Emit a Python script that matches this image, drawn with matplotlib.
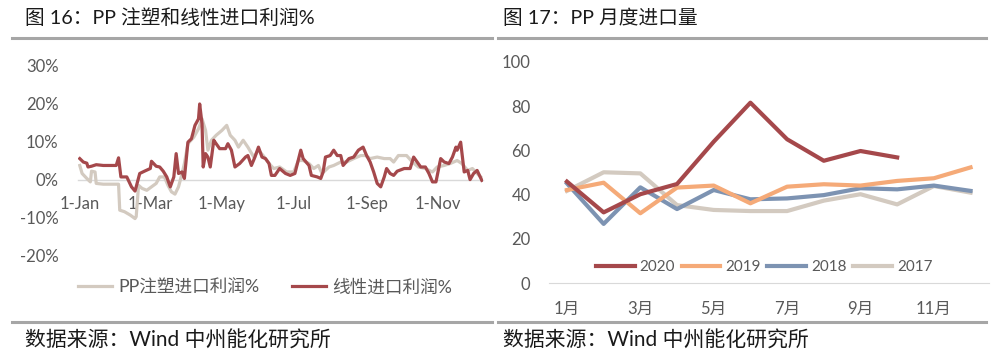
import matplotlib.pyplot as plt
import numpy as np
from matplotlib.lines import Line2D

plt.rcParams['font.family'] = ['Lato', 'Noto Sans CJK SC', 'DejaVu Sans']

# ---- left chart: import margin (%), day offsets from 2020-01-01
linear_days = [0, 3, 6, 7, 10, 14, 20, 26, 31, 33, 35, 40, 44, 47, 48, 51, 55, 60, 61, 65,
               68, 71, 74, 77, 80, 82, 84, 87, 89, 92, 95, 98, 101, 102, 104, 105, 107, 109,
               111, 114, 116, 119, 124, 126, 129, 132, 136, 141, 143, 146, 149, 152, 155,
               158, 161, 163, 166, 170, 175, 179, 183, 188, 190, 195, 197, 202, 205, 207,
               209, 213, 216, 219, 222, 224, 229, 233, 237, 241, 244, 247, 250, 253, 256,
               259, 261, 264, 267, 270, 276, 281, 284, 287, 290, 294, 297, 300, 303, 307,
               310, 314, 317, 320, 321, 324, 327, 330, 332, 335, 338, 342]
linear = [5.5, 4.6, 4.3, 3.3, 3.5, 3.9, 3.7, 3.7, 3.7, 5.7, 0.7, 0.7, -1.9, -3.0, -1.9, 1.6,
          2.2, 2.9, 4.8, 3.5, 3.3, 2.2, 0.7, -1.9, 0.7, 6.8, 1.6, 2.0, 0.3, 9.8, 10.7, 14.2,
          15.9, 19.8, 14.6, 3.3, 6.8, 5.9, 3.3, 10.3, 9.4, 8.1, 8.1, 9.4, 7.7, 3.3, 4.2, 5.9,
          6.3, 3.7, 5.9, 8.5, 5.9, 5.5, 4.2, 1.1, 1.1, 2.9, 1.6, 1.1, 1.6, 7.7, 5.5, 3.7, 1.1,
          0.7, 0.3, 2.0, 5.9, 6.3, 7.7, 6.3, 6.3, 3.7, 5.5, 5.9, 7.7, 8.5, 6.3, 4.6, 2.0,
          -1.0, -1.9, 0.7, 2.9, 1.6, 1.1, 2.2, 2.9, 2.9, 5.9, 4.6, 3.3, 3.3, 1.6, -0.6, -0.6,
          5.5, 4.6, 4.2, 5.9, 8.5, 7.7, 9.8, 2.0, 2.4, 0.0, 1.6, 2.4, -0.2]

pp_days = [0, 2, 6, 9, 10, 13, 14, 20, 26, 33, 34, 38, 43, 47, 48, 50, 53, 57, 61, 65, 68,
           72, 75, 78, 81, 84, 87, 89, 92, 97, 101, 104, 107, 109, 112, 116, 121, 125, 128,
           132, 135, 139, 143, 148, 152, 156, 161, 165, 170, 176, 182, 186, 190, 195, 199,
           203, 206, 212, 216, 222, 227, 233, 239, 243, 247, 253, 259, 264, 267, 271, 278,
           283, 288, 294, 300, 304, 310, 315, 321, 325, 330, 334, 338, 341]
pp = [3.7, 1.6, 0.3, -0.6, 2.2, 2.0, -1.0, -1.2, -1.2, -1.2, -8.0, -8.4, -9.3, -10.2, -9.7,
      -1.5, -2.3, -2.8, -1.9, -1.0, 0.7, 0.7, -1.5, -3.2, -3.8, -1.9, 1.6, 4.2, 9.4, 11.1,
      13.3, 15.9, 12.9, 7.7, 10.3, 11.6, 12.9, 14.2, 11.6, 10.3, 8.5, 10.3, 8.5, 5.9, 7.7,
      6.3, 4.2, 2.9, 3.3, 2.0, 2.0, 5.0, 5.0, 4.2, 2.9, 3.7, 1.6, 3.3, 3.7, 4.6, 4.6, 5.5,
      6.3, 6.3, 5.5, 5.9, 5.5, 5.5, 4.6, 6.3, 6.3, 4.6, 3.3, 2.9, 2.0, 3.3, 3.7, 4.2, 5.0,
      4.2, 2.4, 2.9, 1.6, 0.7]

date_ticks = [0, 60, 121, 182, 244, 305]
date_labels = ['1-Jan', '1-Mar', '1-May', '1-Jul', '1-Sep', '1-Nov']

# ---- right chart: monthly PP imports
months = np.arange(1, 13)
month_labels = ['1月', '3月', '5月', '7月', '9月', '11月']
y2020 = [45.9, 32.0, 40.2, 44.8, 63.9, 81.5, 65.0, 55.3, 59.7, 56.8]
y2019 = [42.1, 45.4, 31.6, 43.2, 44.1, 36.1, 43.6, 44.7, 44.1, 46.2, 47.4, 52.3]
y2018 = [45.1, 26.8, 43.3, 33.5, 42.1, 37.9, 38.3, 39.8, 42.9, 42.4, 44.1, 41.7]
y2017 = [41.7, 50.1, 49.6, 35.3, 33.1, 32.6, 32.6, 37.3, 40.2, 35.6, 43.9, 40.9]

W, H = 992, 360
fig = plt.figure(figsize=(W / 100, H / 100), dpi=100)
tick_col = '#595959'
red = '#A5484B'
beige = '#D3CAC0'

# left chart
ax1 = fig.add_axes([78 / W, 1 - 256 / H, (483 - 78) / W, (256 - 65) / H])
ax1.plot(pp_days, pp, color=beige, lw=2.3, label='PP注塑进口利润%', zorder=3)
ax1.plot(linear_days, linear, color=red, lw=2.3, label='线性进口利润%', zorder=4)
ax1.set_xlim(-1.5, 343)
ax1.set_ylim(-20, 30)
ax1.set_yticks([-20, -10, 0, 10, 20, 30])
ax1.set_yticklabels([f'{v}%' for v in [-20, -10, 0, 10, 20, 30]])
ax1.set_xticks(date_ticks)
ax1.set_xticklabels(date_labels)
for s in ['top', 'right', 'left']:
    ax1.spines[s].set_visible(False)
ax1.spines['bottom'].set_position(('data', 0))
ax1.spines['bottom'].set_color('#d9d9d9')
ax1.spines['bottom'].set_linewidth(1)
ax1.tick_params(axis='both', length=0, labelsize=12, colors=tick_col)
ax1.tick_params(axis='y', pad=14)
ax1.tick_params(axis='x', pad=12)
ax1.patch.set_alpha(0)
fig.legend(handles=ax1.get_lines(), loc='center', bbox_to_anchor=(265 / W, 1 - 287 / H),
           ncol=2, frameon=False, fontsize=12.7, handlelength=1.95, handletextpad=0.35,
           columnspacing=1.8, labelcolor=tick_col)

# right chart
ax2 = fig.add_axes([548.6 / W, 1 - 283.3 / H, (988.9 - 548.6) / W, (283.3 - 61.7) / H])
ax2.plot(months[:len(y2020)], y2020, color=red, lw=3, label='2020', zorder=6)
ax2.plot(months, y2019, color='#F5AA78', lw=3, label='2019', zorder=5)
ax2.plot(months, y2018, color='#7D93B2', lw=3, label='2018', zorder=4)
ax2.plot(months, y2017, color=beige, lw=3, label='2017', zorder=3)
ax2.set_xlim(0.5, 12.5)
ax2.set_ylim(0, 100)
ax2.set_yticks([0, 20, 40, 60, 80, 100])
ax2.set_xticks([1, 3, 5, 7, 9, 11])
ax2.set_xticklabels(month_labels)
for s in ['top', 'right', 'left']:
    ax2.spines[s].set_visible(False)
ax2.spines['bottom'].set_color('#d9d9d9')
ax2.tick_params(axis='both', length=0, labelsize=12, colors=tick_col)
ax2.tick_params(axis='y', pad=13)
ax2.tick_params(axis='x', pad=13)
ax2.patch.set_alpha(0)
fig.legend(handles=ax2.get_lines(), loc='center', bbox_to_anchor=(764 / W, 1 - 267 / H),
           ncol=4, frameon=False, fontsize=11, handlelength=2.55, handletextpad=0.3,
           columnspacing=0.45, labelcolor=tick_col)

# titles, separators, sources
fig.text(25 / W, 1 - 18 / H, '图 16：PP 注塑和线性进口利润%', fontsize=14.2, va='center',
         color='#1a1a1a')
fig.text(503 / W, 1 - 18 / H, '图 17：PP 月度进口量', fontsize=14.2, va='center',
         color='#1a1a1a')
for x0, x1 in [(12, 492), (498, 986)]:
    for yy in [38, 322]:
        fig.add_artist(Line2D([x0 / W, x1 / W], [1 - yy / H, 1 - yy / H], color='#a6a6a6',
                              lw=2.2, transform=fig.transFigure))
fig.text(25 / W, 1 - 341 / H, '数据来源：Wind 中州能化研究所', fontsize=15, va='center',
         color='#1a1a1a')
fig.text(503 / W, 1 - 341 / H, '数据来源：Wind 中州能化研究所', fontsize=15, va='center',
         color='#1a1a1a')

fig.savefig('out.png', dpi=100)
